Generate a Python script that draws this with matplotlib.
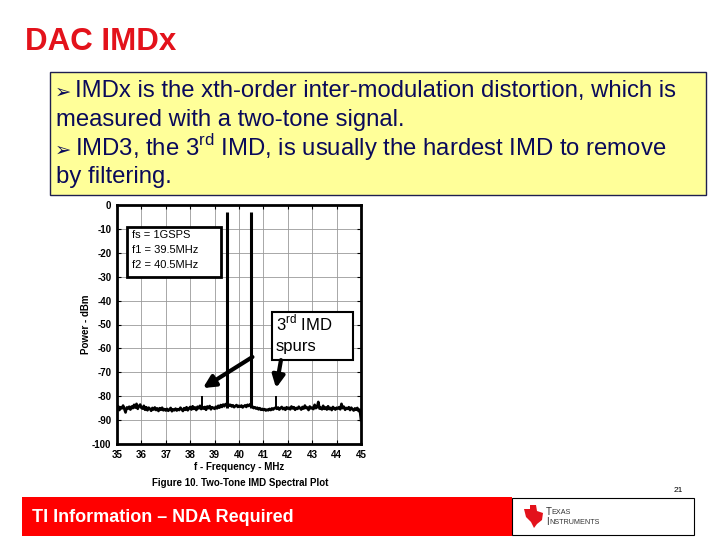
import numpy as np
import matplotlib
matplotlib.use("Agg")
from matplotlib import pyplot as plt
from matplotlib.patches import Rectangle, Polygon

plt.rcParams['font.family'] = ['Liberation Sans', 'DejaVu Sans']
plt.rcParams['mathtext.fontset'] = 'custom'
plt.rcParams['mathtext.rm'] = 'Liberation Sans'
plt.rcParams['axes.unicode_minus'] = False

# noise floor, 35.00 .. 45.00 MHz every 0.05 MHz (dBm)
noise = [-85.5, -84.2, -85.8, -84.6, -85.1, -83.9, -85.4, -86.8, -84.7, -85.2, -84.4,
         -85.6, -84.3, -85.0, -83.6, -84.8, -83.2, -85.3, -84.1, -83.5, -84.9,
         -85.2, -84.0, -85.7, -84.6, -85.9, -84.8, -85.3, -86.1, -84.9, -85.6,
         -84.7, -85.8, -85.1, -86.2, -85.0, -85.7, -84.8, -85.9, -85.4, -86.0,
         -85.3, -86.1, -85.6, -84.9, -86.3, -85.5, -85.9, -85.2, -86.0, -85.4,
         -85.8, -84.8, -85.5, -86.2, -85.0, -85.7, -84.6, -85.9, -85.1, -84.5,
         -85.6, -84.2, -85.3, -84.7, -85.8, -84.4, -85.1, -84.0, -85.4, -84.6,
         -85.2, -84.5, -85.7, -84.3, -85.0, -84.1, -85.5, -84.6, -84.9, -85.3,
         -84.4, -85.1, -84.0, -84.8, -83.7, -84.5, -83.5, -84.2, -83.3, -83.8,
         -83.2, -84.0, -83.6, -84.3, -83.8, -84.6, -84.1, -83.7, -84.5, -84.0,
         -84.4, -83.9, -84.7, -84.2, -83.8, -84.5, -83.6, -84.1, -83.4, -83.9,
         -84.3, -85.0, -84.6, -85.2, -84.8, -85.5, -85.0, -85.7, -85.3, -85.8,
         -85.4, -86.0, -85.6, -85.9, -85.3, -85.8, -85.1, -85.6, -85.0, -84.8,
         -85.3, -84.7, -85.6, -85.0, -84.5, -85.4, -84.9, -85.7, -84.6, -85.2,
         -84.8, -85.5, -84.3, -85.1, -84.6, -85.7, -84.9, -85.3, -84.4, -85.0,
         -85.6, -84.5, -85.2, -83.9, -85.0, -84.7, -85.8, -84.3, -85.1, -84.8,
         -85.4, -83.6, -85.0, -84.6, -82.4, -85.2, -84.8, -85.5, -84.0, -85.3,
         -84.7, -85.6, -84.2, -85.4, -84.9, -85.8, -84.5, -85.1, -85.6, -84.8,
         -85.2, -84.6, -85.5, -83.2, -85.0, -84.4, -85.7, -84.9, -85.3, -84.6,
         -85.8, -84.8, -85.4, -86.0, -85.1, -85.7, -84.9, -86.2, -85.6, -90.0]
freq = np.round(np.linspace(35, 45, len(noise)), 2)

tone_freqs = [39.5, 40.5]
tone_levels = [-3, -3]
spur_freqs = [38.5, 41.5]
spur_levels = [-80, -80]

x_ticks = list(range(35, 46))
y_ticks = list(range(0, -101, -10))

fig = plt.figure(figsize=(7.2, 5.4), dpi=100)

# slide background in pixel coordinates
bg = fig.add_axes([0, 0, 1, 1])
bg.set_xlim(0, 720)
bg.set_ylim(540, 0)
bg.axis('off')

bg.text(25, 42, 'DAC IMDx', color='#E3121B', fontsize=22.5, fontweight='bold', va='center')

bg.add_patch(Rectangle((50, 72), 656, 123, fc='#FFFF99', ec='#1F1F4F', lw=1))
navy = '#0A0A5A'
fs = 17.2
bg.text(55, 92, '\u27a2', color=navy, fontsize=14, va='center', family='DejaVu Sans')
bg.text(75, 91, 'IMDx is the xth-order inter-modulation distortion, which is',
        color=navy, fontsize=fs, va='center')
bg.text(56, 120, 'measured with a two-tone signal.', color=navy, fontsize=fs, va='center')
bg.text(55, 150, '\u27a2', color=navy, fontsize=14, va='center', family='DejaVu Sans')
bg.text(75, 148, r'IMD3, the 3$^{\rm rd}$ IMD, is usually the hardest IMD to remove',
        color=navy, fontsize=fs, va='center')
bg.text(56, 177, 'by filtering.', color=navy, fontsize=fs, va='center')

bg.text(240, 483, 'Figure 10. Two-Tone IMD Spectral Plot', fontsize=7, fontweight='bold',
        ha='center', va='center')

# footer
bg.add_patch(Rectangle((22, 497), 490, 39, fc='#FF0000', ec='none'))
bg.text(32, 517, 'TI Information \u2013 NDA Required', color='white', fontsize=13,
        fontweight='bold', va='center')
bg.add_patch(Rectangle((512, 498), 182, 37, fc='white', ec='black', lw=0.8))
bg.add_patch(Polygon([(524, 509), (530, 509), (530, 505), (536, 505), (537, 511), (543, 513),
                      (542, 520), (537, 524), (534, 528), (531, 522), (526, 517)],
                     closed=True, fc='#E3121B', ec='none'))
bg.text(546, 512, 'T', fontsize=7, va='center', color='#333333')
bg.text(551, 512, 'EXAS', fontsize=5.2, va='center', color='#333333')
bg.text(546, 522, 'I', fontsize=7, va='center', color='#333333')
bg.text(549, 522, 'NSTRUMENTS', fontsize=5.2, va='center', color='#333333')
bg.text(678, 490, '21', fontsize=6, ha='center', va='center')

# spectrum plot
ax = fig.add_axes([117 / 720, 1 - 444 / 540, 244 / 720, 239 / 540])
ax.plot(freq, noise, color='black', lw=1.9, zorder=3)
ax.vlines(tone_freqs, -85, tone_levels, color='black', lw=2.2, zorder=3)
ax.vlines(spur_freqs, -85, spur_levels, color='black', lw=1.4, zorder=3)

ax.set_xlim(35, 45)
ax.set_ylim(-100, 0)
ax.set_xticks(x_ticks)
ax.set_yticks(y_ticks)
ax.tick_params(direction='in', length=3, labelsize=7, pad=4, top=True, right=True)
for lab in ax.get_xticklabels() + ax.get_yticklabels():
    lab.set_fontweight('bold')
ax.grid(True, color='#9A9A9A', lw=0.6)
for sp in ax.spines.values():
    sp.set_linewidth(2)
ax.set_xlabel('f - Frequency - MHz', fontsize=7, fontweight='bold', labelpad=2)
ax.set_ylabel('Power - dBm', fontsize=7, fontweight='bold', labelpad=1)

ax.add_patch(Rectangle((35.4, -30), 3.85, 21, fc='white', ec='black', lw=2, zorder=4))
ax.text(35.6, -12.6, 'fs = 1GSPS', fontsize=8, va='center', zorder=5)
ax.text(35.6, -18.8, 'f1 = 39.5MHz', fontsize=8, va='center', zorder=5)
ax.text(35.6, -25.1, 'f2 = 40.5MHz', fontsize=8, va='center', zorder=5)

ax.add_patch(Rectangle((41.35, -64.9), 3.32, 20.1, fc='white', ec='black', lw=1.5, zorder=4))
ax.text(41.52, -49.4, r'3$^{\rm rd}$ IMD', fontsize=12, va='center', zorder=5)
ax.text(41.52, -59.0, 'spurs', fontsize=12, va='center', zorder=5)

arrow = dict(arrowstyle='-|>', lw=3, color='black', mutation_scale=18, shrinkA=0, shrinkB=0)
ax.annotate('', xy=(38.52, -76.6), xytext=(40.55, -63.6), arrowprops=arrow, zorder=5)
ax.annotate('', xy=(41.52, -76.6), xytext=(41.72, -64.9), arrowprops=arrow, zorder=5)

fig.savefig('out.png', dpi=100)
